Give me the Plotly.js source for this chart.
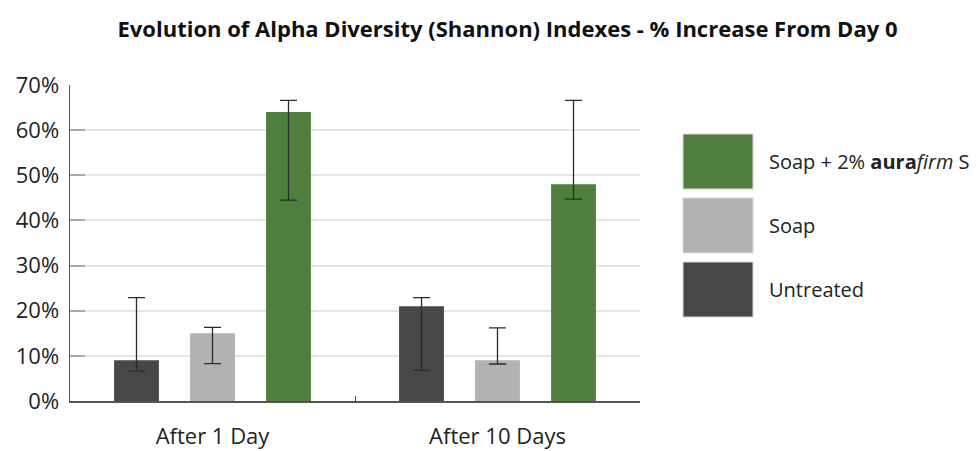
<!DOCTYPE html>
<html>
<head>
<meta charset="utf-8">
<script src="https://cdn.plot.ly/plotly-3.0.1.min.js"></script>
<style>html,body{margin:0;padding:0;background:#fff;}#chart{width:976px;height:451px;}</style>
</head>
<body>
<div id="chart"></div>
<script>
const categories = ["After 1 Day", "After 10 Days"];
const seriesNames = ["Untreated", "Soap", "Soap + 2% <b>aura</b><i>firm</i> S"];
const seriesColors = ["#474846", "#b2b2b2", "#4f7f3e"];
const untreated = [9, 21];
const soap = [15, 9];
const auraSoap = [64, 48];
const untreatedErrPlus = [13.9, 1.9];
const untreatedErrMinus = [2.4, 14.2];
const soapErrPlus = [1.3, 7.2];
const soapErrMinus = [6.7, 0.8];
const auraErrPlus = [2.6, 18.6];
const auraErrMinus = [19.5, 3.3];
const yTickVals = [0, 10, 20, 30, 40, 50, 60, 70];
const yTickText = ["0%", "10%", "20%", "30%", "40%", "50%", "60%", "70%"];

const values = [untreated, soap, auraSoap];
const errPlus = [untreatedErrPlus, soapErrPlus, auraErrPlus];
const errMinus = [untreatedErrMinus, soapErrMinus, auraErrMinus];

const traces = values.map((v, i) => ({
  type: "bar",
  name: seriesNames[i],
  x: categories,
  y: v,
  marker: {color: seriesColors[i]},
  error_y: {type: "data", symmetric: false, array: errPlus[i], arrayminus: errMinus[i],
            color: "#2a2a2a", thickness: 1.3, width: 8.5},
  showlegend: false,
  hoverinfo: "x+y"
}));

// custom legend (large swatches), built from the series arrays
const shapes = [];
const annotations = [];
const legendOrder = [2, 1, 0];
legendOrder.forEach((si, k) => {
  const top = 134 + k * 64;
  shapes.push({type: "rect", xref: "paper", yref: "paper",
    x0: (683 - 70) / 570, x1: (753 - 70) / 570,
    y0: (401 - (top + 55)) / 316, y1: (401 - top) / 316,
    fillcolor: seriesColors[si], line: {color: "#d8d8d8", width: 1}});
  annotations.push({xref: "paper", yref: "paper", x: (767 - 70) / 570, y: (401 - (top + 27)) / 316,
    xanchor: "left", yanchor: "middle", showarrow: false, text: seriesNames[si],
    font: {family: "Open Sans", size: 20, color: "#222"}});
});

const layout = {
  width: 976, height: 451,
  margin: {l: 70, r: 336, t: 85, b: 50},
  paper_bgcolor: "#fff", plot_bgcolor: "#fff",
  title: {text: "<b>Evolution of Alpha Diversity (Shannon) Indexes - % Increase From Day 0</b>",
    font: {family: "Open Sans", size: 22, color: "#111"}, x: 0.52, xanchor: "center", y: 0.935, yanchor: "middle"},
  barmode: "group", bargap: 0.2, bargroupgap: 0.41,
  font: {family: "Open Sans", color: "#333"},
  xaxis: {type: "category", showline: true, linecolor: "#555", linewidth: 1.5,
    ticks: "inside", tickson: "boundaries", ticklen: 5, tickcolor: "#555",
    tickfont: {size: 22, color: "#222"}, ticklabelstandoff: 15, showgrid: false, zeroline: false},
  yaxis: {range: [0, 70], tickvals: yTickVals, ticktext: yTickText, showline: true, linecolor: "#555", linewidth: 1.5,
    ticks: "inside", ticklen: 15, tickcolor: "#aaa", tickwidth: 2,
    showgrid: true, gridcolor: "#e5e5e5", gridwidth: 2, zeroline: false,
    tickfont: {size: 22, color: "#222"}, ticklabelstandoff: 5},
  shapes: shapes, annotations: annotations, showlegend: false
};

Plotly.newPlot("chart", traces, layout, {displayModeBar: false, staticPlot: true});
</script>
</body>
</html>
